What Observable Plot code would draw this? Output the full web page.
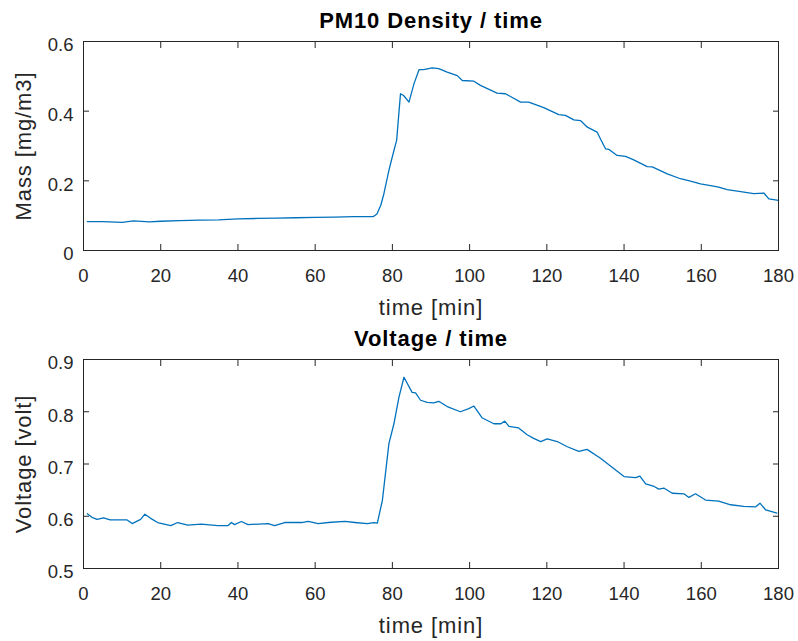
<!DOCTYPE html>
<html>
<head>
<meta charset="utf-8">
<script src="https://cdn.jsdelivr.net/npm/d3@7"></script>
<script src="https://cdn.jsdelivr.net/npm/@observablehq/plot@0.6"></script>
<style>
  html, body { margin: 0; padding: 0; background: #fff; }
  #chart { width: 798px; height: 641px; }
  #chart svg { display: block; }
  g[aria-label="text"] text { letter-spacing: 0.9px; }
</style>
</head>
<body>
<div id="chart"></div>
<script>
// ---- Data ----
const pmTimes = [1,5,10,13,17,20,25,30,35,40,45,50,55,60,65,70,75,76,77,77.8,79.1,80.4,81.1,82.1,82.9,84.3,85.6,86.9,88.1,90.3,92,94.2,96.8,98.1,101.1,102.8,107.1,109.3,113.2,115.3,119.2,123.1,124.8,127,128.7,130.5,133,134.1,135.2,136.1,138.2,140.4,142.5,146,147.3,151.2,154.6,157.2,159.8,162.4,164.5,166.7,170.2,173.6,176.2,177.5,180];
const pmValues = [0.083,0.083,0.081,0.085,0.082,0.084,0.086,0.087,0.088,0.091,0.092,0.093,0.094,0.095,0.096,0.097,0.097,0.105,0.130,0.163,0.230,0.287,0.316,0.450,0.445,0.426,0.479,0.519,0.519,0.524,0.522,0.512,0.502,0.488,0.486,0.474,0.452,0.450,0.426,0.426,0.410,0.390,0.388,0.375,0.373,0.354,0.340,0.316,0.292,0.290,0.273,0.270,0.260,0.241,0.240,0.220,0.206,0.199,0.191,0.186,0.182,0.175,0.169,0.163,0.165,0.148,0.144];

const vTimes = [1,2.2,3.5,5.2,6.9,9,11.3,12.6,14.8,15.9,17.4,19.2,22.6,24.4,27,30.5,34.8,37.4,38.3,39.1,40.9,42.6,47.8,49.5,52.1,56.5,58.2,60.8,63.4,67.7,70.3,73.5,75.2,76.1,77.4,79.1,80.4,81.7,83,85.1,86,87.3,89,90.7,92,94.2,97.6,99.8,101.1,103.3,106.3,108.1,109.1,110.2,112.7,114.9,116.6,118.4,120.1,122.7,125.3,128.3,130.4,133.9,137.4,140,143,144.1,145.6,147.8,149,150.3,152.5,155.5,156.8,158.5,161.1,164.5,167.6,171,174.1,175.2,176.7,179.6];
const vValues = [0.605,0.598,0.594,0.597,0.593,0.593,0.593,0.586,0.594,0.604,0.596,0.588,0.582,0.588,0.583,0.585,0.582,0.582,0.588,0.584,0.590,0.584,0.586,0.582,0.588,0.588,0.590,0.586,0.588,0.590,0.588,0.586,0.588,0.587,0.630,0.739,0.777,0.828,0.866,0.837,0.836,0.822,0.818,0.817,0.820,0.810,0.800,0.806,0.811,0.788,0.777,0.777,0.782,0.772,0.769,0.756,0.749,0.743,0.748,0.743,0.733,0.724,0.728,0.711,0.691,0.676,0.674,0.677,0.662,0.657,0.652,0.654,0.644,0.643,0.636,0.643,0.631,0.629,0.622,0.619,0.618,0.625,0.612,0.606];

const xTicks = [0,20,40,60,80,100,120,140,160,180];
const pmTicks = [0,0.2,0.4,0.6];
const vTicks = [0.5,0.6,0.7,0.8,0.9];

const titles = ["PM10 Density / time", "Voltage / time"];
const xLabel = "time [min]";
const yLabels = ["Mass [mg/m3]", "Voltage [volt]"];

// ---- Drawing ----
const axisColor = "#262626";
const lineColor = "#0072BD";

function panel({times, values, yDomain, yTicks, title, yLabel, height, marginTop, marginBottom}) {
  const data = times.map((t, i) => ({t, v: values[i]}));
  const fmt = d => String(d);
  return Plot.plot({
    width: 798,
    height,
    marginLeft: 83,
    marginRight: 20,
    marginTop,
    marginBottom,
    style: {fontFamily: "'Liberation Sans', Arial, sans-serif", fontSize: "18.5px", color: axisColor, background: "#fff", overflow: "visible"},
    x: {domain: [0, 180]},
    y: {domain: yDomain},
    marks: [
      Plot.line(data, {x: "t", y: "v", stroke: lineColor, strokeWidth: 1.3}),
      Plot.frame({stroke: axisColor, strokeWidth: 1}),
      // tick labels
      Plot.axisX({ticks: xTicks, tickSize: 0, tickPadding: 18, tickFormat: fmt, label: null}),
      Plot.axisY({ticks: yTicks, tickSize: 0, tickPadding: 10, dy: 4, tickFormat: fmt, label: null}),
      // inward ticks on all four sides
      Plot.axisX({ticks: xTicks, anchor: "bottom", tickSize: -6, fill: "none", label: null}),
      Plot.axisX({ticks: xTicks, anchor: "top", tickSize: -6, fill: "none", label: null}),
      Plot.axisY({ticks: yTicks, anchor: "left", tickSize: -6, fill: "none", label: null}),
      Plot.axisY({ticks: yTicks, anchor: "right", tickSize: -6, fill: "none", label: null}),
      // title and axis labels
      Plot.text([title], {frameAnchor: "top", dy: -20.5, lineAnchor: "middle", textAnchor: "middle", fontWeight: "bold", fontSize: 22, fill: "#000"}),
      Plot.text([xLabel], {frameAnchor: "bottom", dy: 57, lineAnchor: "middle", textAnchor: "middle", fontSize: 22, fill: axisColor}),
      Plot.text([yLabel], {frameAnchor: "left", dx: -60, rotate: -90, lineAnchor: "middle", textAnchor: "middle", fontSize: 22, fill: axisColor})
    ]
  });
}

const chart = document.getElementById("chart");
chart.append(panel({times: pmTimes, values: pmValues, yDomain: [0, 0.6], yTicks: pmTicks, title: titles[0], yLabel: yLabels[0], height: 320, marginTop: 41, marginBottom: 70}));
chart.append(panel({times: vTimes, values: vValues, yDomain: [0.5, 0.9], yTicks: vTicks, title: titles[1], yLabel: yLabels[1], height: 321, marginTop: 39, marginBottom: 73}));
</script>
</body>
</html>
